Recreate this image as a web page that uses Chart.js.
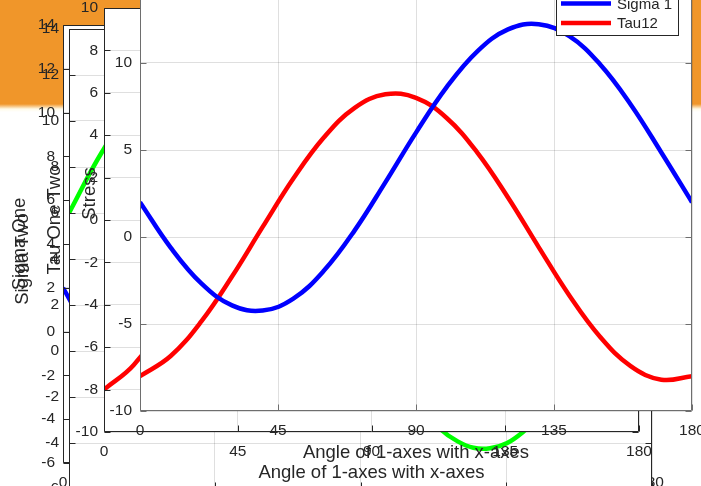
<!DOCTYPE html>
<html>
<head>
<meta charset="utf-8">
<script src="https://cdn.jsdelivr.net/npm/chart.js@4.4.1/dist/chart.umd.min.js"></script>
<style>
    html, body { margin: 0; padding: 0; width: 701px; height: 486px; overflow: hidden; background: #fff; }
    #band { position: absolute; left: 0; top: 0; width: 701px; height: 112px;
            background: linear-gradient(#f0962a 0, #f0962a 104px, #fffbe8 109px, #fff 112px); }
    canvas { position: absolute; left: 0; }
</style>
</head>
<body>
<div id="band"></div>
<canvas id="chartA" width="701" height="560" style="top:0"></canvas>
<canvas id="chartB" width="701" height="560" style="top:0"></canvas>
<canvas id="chartMid" width="701" height="486" style="top:0"></canvas>
<canvas id="chartFront" width="701" height="516" style="top:-30px"></canvas>
<script>
// Angle of 1-axes with x-axes (degrees)
const angles = [0, 10, 20, 30, 40, 50, 60, 70, 80, 90, 100, 110, 120, 130, 140, 150, 160, 170, 180];
// Stress values
const sigma1 = [2.00, -0.61, -2.67, -3.93, -4.23, -3.54, -1.93, 0.38, 3.14, 6.00, 8.61, 10.67, 11.93, 12.23, 11.54, 9.93, 7.62, 4.86, 2.00];
const sigma2 = [6.00, 8.61, 10.67, 11.93, 12.23, 11.54, 9.93, 7.62, 4.86, 2.00, -0.61, -2.67, -3.93, -4.23, -3.54, -1.93, 0.38, 3.14, 6.00];
const tau12  = [-8.00, -6.84, -4.85, -2.27, 0.58, 3.36, 5.73, 7.42, 8.20, 8.00, 6.84, 4.85, 2.27, -0.58, -3.36, -5.73, -7.42, -8.20, -8.00];

const xTitle = 'Angle of 1-axes with x-axes';

const FONT = "'Liberation Sans', Arial, Helvetica, sans-serif";
const INK = '#262626';
const GRID = 'rgba(38,38,38,0.15)';

function points(values) {
    return angles.map(function(a, i) { return { x: a, y: values[i] }; });
}

// MATLAB-style axes: white plot area, box, ticks pointing inward
const axesBox = {
    id: 'axesBox',
    beforeDraw: function(chart) {
        const a = chart.chartArea;
        const ctx = chart.ctx;
        ctx.save();
        ctx.fillStyle = '#fff';
        ctx.fillRect(a.left, a.top, a.right - a.left, a.bottom - a.top);
        ctx.restore();
    },
    afterDraw: function(chart, args, opts) {
        const a = chart.chartArea;
        const ctx = chart.ctx;
        const xs = chart.scales.x;
        const ys = chart.scales.y;
        const len = 6;
        ctx.save();
        ctx.strokeStyle = opts.color || INK;
        ctx.lineWidth = 1;
        ctx.beginPath();
        const l = Math.round(a.left) + 0.5, r = Math.round(a.right) - 0.5;
        const t = Math.round(a.top) + 0.5, b = Math.round(a.bottom) - 0.5;
        ctx.rect(l, t, r - l, b - t);
        xs.ticks.forEach(function(tk) {
            const px = Math.round(xs.getPixelForValue(tk.value)) + 0.5;
            ctx.moveTo(px, b); ctx.lineTo(px, b - len);
            ctx.moveTo(px, t); ctx.lineTo(px, t + len);
        });
        ys.ticks.forEach(function(tk) {
            const py = Math.round(ys.getPixelForValue(tk.value)) + 0.5;
            ctx.moveTo(l, py); ctx.lineTo(l + len, py);
            ctx.moveTo(r, py); ctx.lineTo(r - len, py);
        });
        ctx.stroke();
        ctx.restore();
    }
};

// Legend box drawn inside the plot, top right
const insideLegend = {
    id: 'insideLegend',
    afterDraw: function(chart, args, opts) {
        const ctx = chart.ctx;
        const sets = chart.data.datasets;
        const rowH = 19.5;
        const x0 = opts.left, x1 = opts.right, bottom = opts.bottom;
        const top = bottom - rowH * sets.length - 8;
        ctx.save();
        ctx.fillStyle = '#fff';
        ctx.fillRect(x0, top, x1 - x0, bottom - top);
        ctx.strokeStyle = INK;
        ctx.lineWidth = 1;
        ctx.strokeRect(x0 + 0.5, top + 0.5, x1 - x0, bottom - top);
        ctx.font = '15px ' + FONT;
        ctx.textBaseline = 'middle';
        sets.forEach(function(ds, i) {
            const y = bottom - 12 - rowH * (sets.length - 1 - i);
            ctx.strokeStyle = ds.borderColor;
            ctx.lineWidth = 4.5;
            ctx.beginPath();
            ctx.moveTo(x0 + 5, y); ctx.lineTo(x0 + 55, y);
            ctx.stroke();
            ctx.fillStyle = INK;
            ctx.fillText(ds.label, x0 + 61, y + 1);
        });
        ctx.restore();
    }
};

function line(label, values, color) {
    return {
        label: label,
        data: points(values),
        borderColor: color,
        backgroundColor: color,
        borderWidth: 4.5,
        pointRadius: 0,
        tension: 0.4,
        fill: false
    };
}

function axesChart(id, cfg) {
    const canvas = document.getElementById(id);
    const p = cfg.plot; // left, top, right, bottom in canvas pixels
    const tickFont = { family: FONT, size: 15.5 };
    const titleFont = { family: FONT, size: 18.5 };
    const plugins = [axesBox];
    if (cfg.legend) plugins.push(insideLegend);
    return new Chart(canvas, {
        type: 'line',
        data: { datasets: cfg.datasets },
        options: {
            responsive: false,
            animation: false,
            devicePixelRatio: 1,
            layout: {
                padding: {
                    left: p[0] - cfg.yW,
                    top: p[1],
                    right: canvas.width - p[2],
                    bottom: canvas.height - p[3] - cfg.xH
                }
            },
            plugins: {
                legend: { display: false },
                tooltip: { enabled: false },
                axesBox: { color: cfg.boxColor },
                insideLegend: cfg.legend || {}
            },
            scales: {
                x: {
                    type: 'linear', min: 0, max: 180,
                    ticks: { stepSize: 45, padding: 10, color: INK, font: tickFont, maxRotation: 0 },
                    grid: { color: GRID, drawTicks: false },
                    border: { display: false },
                    title: { display: true, text: xTitle, color: INK, font: titleFont, padding: 0 },
                    afterFit: function(s) { s.height = cfg.xH; s.paddingLeft = 0; s.paddingRight = 0; }
                },
                y: {
                    min: cfg.yMin, max: cfg.yMax,
                    ticks: { stepSize: cfg.yStep, padding: cfg.yPad, color: INK, font: tickFont },
                    grid: { color: GRID, drawTicks: false },
                    border: { display: false },
                    title: { display: true, text: cfg.yTitle, color: INK, font: titleFont, padding: 0 },
                    afterFit: function(s) { s.width = cfg.yW; s.paddingTop = 0; s.paddingBottom = 0; }
                }
            }
        },
        plugins: plugins
    });
}

document.addEventListener('DOMContentLoaded', function() {
    // Back axes: Sigma One
    axesChart('chartA', {
        plot: [63, 25, 651, 463], yW: 54, xH: 52, yPad: 8,
        yMin: -6, yMax: 14, yStep: 2, yTitle: 'Sigma One',
        datasets: [line('Sigma 1', sigma1, '#0000ff')]
    });

    // Back axes: Sigma Two
    axesChart('chartB', {
        plot: [69, 29, 652, 489], yW: 57, xH: 52, yPad: 10,
        yMin: -6, yMax: 14, yStep: 2, yTitle: 'Sigma Two',
        datasets: [line('Sigma 2', sigma2, '#00ff00')]
    });

    // Middle axes: Tau One Two
    axesChart('chartMid', {
        plot: [104, 8, 639, 432], yW: 60, xH: 52, yPad: 6,
        yMin: -10, yMax: 10, yStep: 2, yTitle: 'Tau One Two',
        datasets: [line('Tau12', tau12, '#ff0000')]
    });

    // Front axes: Stress
    axesChart('chartFront', {
        plot: [140, 6, 692, 441], yW: 61, xH: 53, yPad: 8,
        yMin: -10, yMax: 15, yStep: 5, yTitle: 'Stress', boxColor: '#6e6e6e',
        legend: { left: 556, right: 678, bottom: 65 },
        datasets: [line('Sigma 1', sigma1, '#0000ff'), line('Tau12', tau12, '#ff0000')]
    });
});
</script>
</body>
</html>
